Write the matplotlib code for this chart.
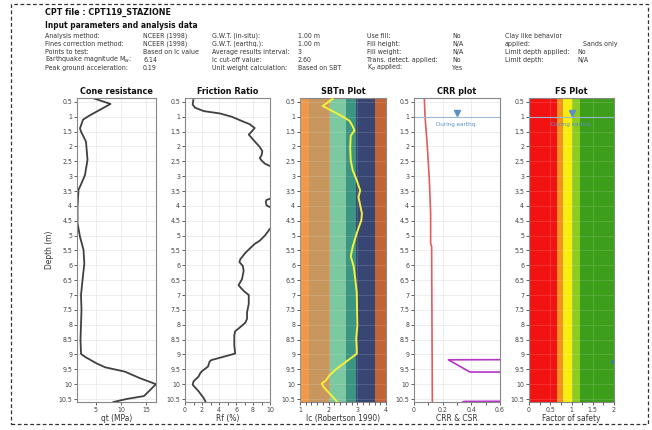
import numpy as np
import matplotlib
matplotlib.use("Agg")
import matplotlib.pyplot as plt
from matplotlib.patches import Rectangle

plt.rcParams['font.family'] = ['DejaVu Sans']
plt.rcParams['font.stretch'] = 'condensed'

W, H = 652, 430

# Datos
depth_qt = [0.38, 0.57, 0.83, 0.97, 1.1, 1.39, 1.5, 1.84, 2.45, 2.96, 3.24, 3.46, 4.02, 4.58, 5.04, 5.48,
            5.95, 6.5, 7.0, 7.5, 8.0, 8.5, 8.98, 9.08, 9.3, 9.43, 9.58, 9.8, 10.0, 10.4, 10.5, 10.6]
qt = [4.5, 7.9, 5.1, 3.6, 2.4, 1.8, 2.0, 3.0, 3.3, 2.8, 2.1, 1.5, 1.3, 1.3, 1.8, 2.5,
      2.66, 2.3, 2.0, 2.1, 2.0, 1.9, 2.0, 2.8, 5.1, 6.8, 10.8, 13.8, 17.0, 14.6, 11.1, 8.5]

depth_rf = [0.44, 0.59, 0.7, 0.81, 0.89, 1.0, 1.17, 1.25, 1.38, 1.51, 1.6, 1.83, 2.02, 2.16, 2.3, 2.39,
            2.47, 2.58, 2.66, 2.8, 3.2, 3.6, 3.76, 3.8, 3.87, 3.99, 4.04, 4.2, 4.6, 4.77, 5.0, 5.17,
            5.28, 5.47, 5.58, 5.8, 5.89, 6.02, 6.19, 6.47, 6.67, 6.86, 7.0, 7.3, 7.58, 7.8, 7.93, 8.08,
            8.22, 8.36, 8.69, 8.97, 9.08, 9.19, 9.24, 9.41, 9.56, 9.63, 9.74, 9.91, 10.02, 10.24, 10.47, 10.58]
rf = [0.98, 0.9, 1.2, 2.2, 4.1, 5.5, 6.9, 7.6, 8.2, 7.8, 7.5, 8.2, 8.8, 9.1, 9.0, 8.8,
      9.0, 9.4, 10.0, 10.8, 11.2, 10.6, 10.0, 9.6, 9.5, 9.6, 10.0, 10.7, 10.9, 10.0, 9.4, 8.8,
      8.2, 7.5, 7.1, 6.5, 6.4, 6.8, 6.9, 6.7, 6.3, 6.9, 7.5, 7.5, 7.3, 7.3, 7.1, 6.5,
      5.9, 5.8, 5.8, 5.9, 4.5, 3.1, 2.9, 2.7, 2.0, 1.8, 1.6, 1.0, 0.9, 1.6, 2.2, 2.4]

depth_ic = [0.4, 0.64, 0.76, 0.98, 1.14, 1.31, 1.46, 1.64, 2.03, 2.48, 2.81, 3.14, 3.48, 3.7, 3.98, 4.26,
            4.48, 4.92, 5.37, 5.7, 6.03, 6.48, 6.92, 8.03, 8.48, 8.81, 8.98, 9.14, 9.31, 9.48, 9.7, 9.87,
            9.98, 10.09, 10.31, 10.6]
ic = [2.14, 1.79, 2.03, 2.46, 2.73, 2.83, 2.9, 2.77, 2.75, 2.77, 2.84, 2.98, 3.1, 3.04, 3.1, 3.16,
      3.14, 2.98, 2.84, 2.77, 2.87, 2.93, 2.98, 3.0, 2.96, 2.98, 2.98, 2.75, 2.52, 2.28, 2.03, 1.91,
      1.76, 1.82, 2.03, 2.3]

depth_csr = [0.38, 1.0, 2.0, 3.13, 4.25, 5.26, 5.37, 10.6]
csr = [0.072, 0.077, 0.093, 0.107, 0.116, 0.116, 0.123, 0.128]
depth_crr = [9.16, 9.18, 9.59, 9.61, 10.55, 10.58, 10.7]
crr = [2.0, 0.24, 0.39, 2.0, 2.0, 0.35, 0.3]
depth_fs = [9.05, 9.25, 9.45]
fs = [2.3, 1.95, 2.3]

# Zonas SBTn y FS
ic_bounds = [1.0, 1.31, 2.05, 2.6, 2.95, 3.6, 4.0]
ic_colors = ['#F09848', '#C8965F', '#7CC8A0', '#3C9482', '#374673', '#C36437']
fs_bounds = [0.0, 0.67, 0.8, 1.0, 1.2, 2.0]
fs_colors = ['#F21212', '#F3901E', '#F6EE10', '#8CCB22', '#3D9E1C']

gwt = 1.0

cabecera = [
    [("Analysis method:", 45), ("NCEER (1998)", 143), ("G.W.T. (in-situ):", 212), ("1.00 m", 298),
     ("Use fill:", 367), ("No", 452), ("Clay like behavior", 505)],
    [("Fines correction method:", 45), ("NCEER (1998)", 143), ("G.W.T. (earthq.):", 212), ("1.00 m", 298),
     ("Fill height:", 367), ("N/A", 452), ("applied:", 505), ("Sands only", 583)],
    [("Points to test:", 45), ("Based on Ic value", 143), ("Average results interval:", 212), ("3", 298),
     ("Fill weight:", 367), ("N/A", 452), ("Limit depth applied:", 505), ("No", 577)],
    [("Earthquake magnitude M$_w$:", 45), ("6.14", 143), ("Ic cut-off value:", 212), ("2.60", 298),
     ("Trans. detect. applied:", 367), ("No", 452), ("Limit depth:", 505), ("N/A", 577)],
    [("Peak ground acceleration:", 45), ("0.19", 143), ("Unit weight calculation:", 212), ("Based on SBT", 298),
     ("K$_\\sigma$ applied:", 367), ("Yes", 452)],
]
filas_y = [36, 44, 52, 60, 68]

fig = plt.figure(figsize=(W / 100, H / 100), dpi=100)

def rect(l, r, t, b):
  return [l / W, 1 - b / H, (r - l) / W, (b - t) / H]

def ftext(x, y, s, **kw):
  fig.text(x / W, 1 - y / H, s, va='center', ha=kw.pop('ha', 'left'), **kw)

# Marco discontinuo
fig.add_artist(Rectangle((11 / W, 1 - 424 / H), 637 / W, 420 / H, transform=fig.transFigure,
                         fill=False, ec='#333333', lw=0.9, ls=(0, (3, 2))))

ftext(45, 12, "CPT file : CPT119_STAZIONE", fontsize=6.4, fontweight='bold', color='#111111')
ftext(45, 25, "Input parameters and analysis data", fontsize=6.0, fontweight='bold', color='#111111')
for fila, y in zip(cabecera, filas_y):
  for s, x in fila:
    ftext(x, y, s, fontsize=5, color='#333333')

ylim = (10.6, 0.37)
yticks = np.arange(0.5, 10.51, 0.5)

def preparar(l, r, titulo, xlabel, xlim, xmaj, xmin=None, colored=False):
  ax = fig.add_axes(rect(l, r, 98, 402))
  ax.set_ylim(*ylim)
  ax.set_xlim(*xlim)
  ax.set_yticks(yticks)
  ax.set_yticklabels([f"{v:g}" for v in yticks])
  ax.set_xticks(xmaj)
  ax.set_xticklabels([f"{v:g}" for v in xmaj])
  if xmin is not None:
    ax.set_xticks(xmin, minor=True)
  ax.tick_params(labelsize=5, colors='#444444', length=2.5, width=0.6, pad=1)
  ax.tick_params(which='minor', length=2, width=0.6, colors='#444444')
  if colored:
    ax.grid(True, color='white', alpha=0.18, lw=0.5)
    ax.set_axisbelow(False)
  else:
    ax.grid(True, color='#e6e6e6', lw=0.5)
  for sp in ax.spines.values():
    sp.set_color('#888888')
    sp.set_linewidth(0.8)
  ax.set_title(titulo, fontsize=6.5, fontweight='bold', pad=3, color='#111111')
  ax.set_xlabel(xlabel, fontsize=6, color='#333333', labelpad=1)
  return ax

# Cone resistance
ax1 = preparar(77, 156, "Cone resistance", "qt (MPa)", (1.2, 17.0), [5, 10, 15])
ax1.plot(qt, depth_qt, color='#404040', lw=1.3)
ax1.set_ylabel("Depth (m)", fontsize=6, color='#333333', labelpad=3)

# Friction ratio
ax2 = preparar(185, 270, "Friction Ratio", "Rf (%)", (0, 10), [0, 2, 4, 6, 8, 10], np.arange(1, 10, 2))
ax2.plot(rf, depth_rf, color='#404040', lw=1.3)

# SBTn
ax3 = preparar(300, 386, "SBTn Plot", "Ic (Robertson 1990)", (1, 4), [1, 2, 3, 4], np.arange(1, 4.01, 0.2), True)
for a, b, c in zip(ic_bounds[:-1], ic_bounds[1:], ic_colors):
  ax3.axvspan(a, b, color=c, lw=0, zorder=0)
ax3.plot(ic, depth_ic, color='#F2F23A', lw=1.4, zorder=3)

# CRR
ax4 = preparar(414, 500, "CRR plot", "CRR & CSR", (0, 0.6), [0, 0.2, 0.4, 0.6], np.arange(0.1, 0.6, 0.2))
ax4.plot(csr, depth_csr, color='#E55A5A', lw=1.2)
ax4.plot(crr, depth_crr, color='#B535C8', lw=1.2)
ax4.axhline(gwt, color='#9CB8D8', lw=0.8)
ax4.plot([0.3], [gwt - 0.14], marker='v', color='#5B8FC9', ms=5, ls='none')
ax4.text(0.3, gwt + 0.25, "During earthq.", fontsize=4.5, color='#5B8FC9', ha='center', va='center')

# FS
ax5 = preparar(529, 614, "FS Plot", "Factor of safety", (0, 2), [0, 0.5, 1, 1.5, 2], np.arange(0.25, 2, 0.5), True)
for a, b, c in zip(fs_bounds[:-1], fs_bounds[1:], fs_colors):
  ax5.axvspan(a, b, color=c, lw=0, zorder=0)
ax5.axhline(gwt, color='#9CB8D8', lw=0.8, zorder=3)
ax5.plot([1.0], [gwt - 0.14], marker='v', color='#5B8FC9', ms=5, ls='none', zorder=4)
ax5.text(1.0, gwt + 0.25, "During earthq.", fontsize=4.5, color='#5B8FC9', ha='center', va='center', zorder=4)
ax5.plot(fs, depth_fs, color='#3F6FB8', lw=1.2, zorder=4)

fig.savefig("out.png", dpi=100)
